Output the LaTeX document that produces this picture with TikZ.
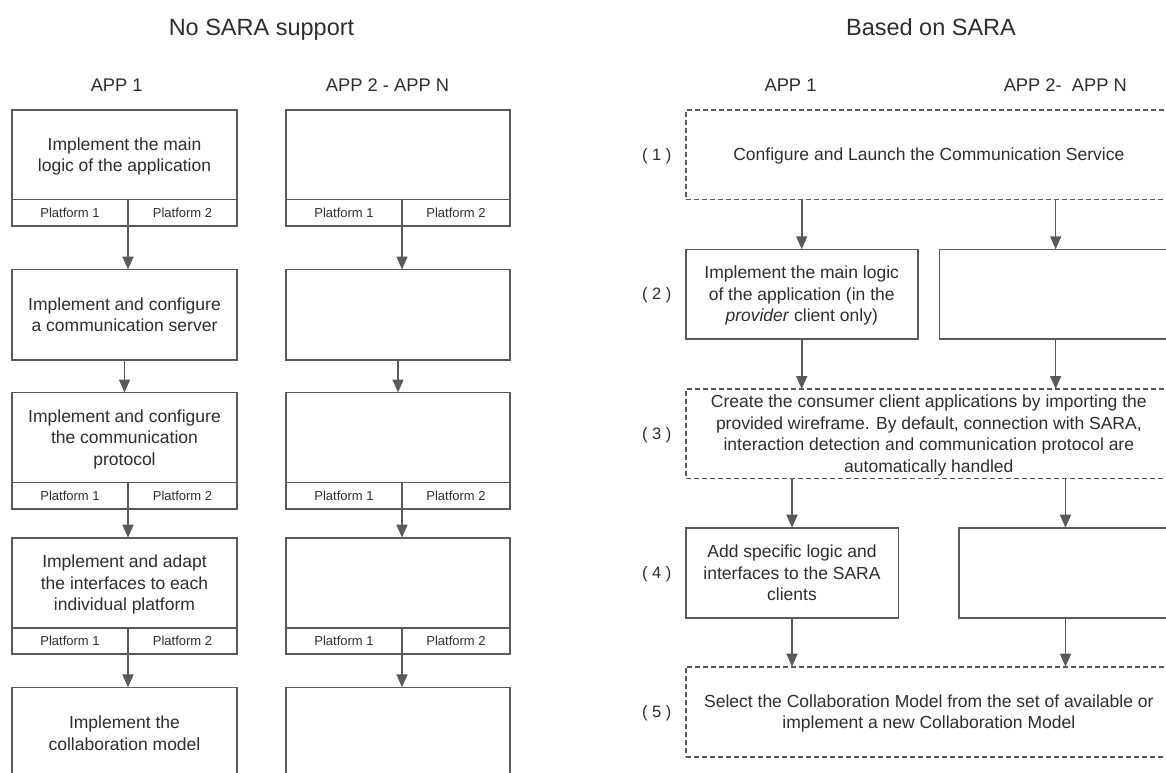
\documentclass[tikz,border=0pt]{standalone}
\usepackage{fontspec}
\setmainfont{Liberation Sans}
\usetikzlibrary{arrows.meta,calc}
\definecolor{txt}{HTML}{2E2E2E}
\definecolor{lgray}{HTML}{5A5A5A}
\newcommand\boxfnt{\fontsize{17.5}{21.5}\selectfont}
\newcommand\platfnt{\fontsize{13}{15}\selectfont}
\newcommand\headfnt{\fontsize{23.5}{27}\selectfont}
\newcommand\appfnt{\fontsize{18.3}{22}\selectfont}
\newcommand\labfnt{\fontsize{16.5}{20}\selectfont}
\tikzset{
  ln/.style={draw=lgray, line width=1.6pt},
  stepbox/.style={ln, rectangle, anchor=north west, inner sep=0pt, outer sep=0pt, align=center, text depth=0pt, font=\boxfnt, text=txt},
  dashbox/.style={stepbox, dash pattern=on 5pt off 3pt},
  platbox/.style={ln, rectangle, anchor=north west, inner sep=0pt, outer sep=0pt, minimum height=26.5pt, font=\platfnt, text=txt},
  arr/.style={draw=lgray, line width=1.6pt, -{Triangle[width=11pt,length=13pt]}},
  headtxt/.style={anchor=base, font=\headfnt, text=txt, inner sep=0pt},
  apptxt/.style={anchor=base, font=\appfnt, text=txt, inner sep=0pt},
  labtxt/.style={font=\labfnt, text=txt, inner sep=0pt},
}
\begin{document}
\begin{tikzpicture}[x=1pt,y=-1pt]
\useasboundingbox (0,0) rectangle (1166,772);
\clip (0,0) rectangle (1166,772);
\fill[white] (0,0) rectangle (1166,772);

% headers
\node[headtxt] (hL) at (261.5,35) {No SARA support};
\node[headtxt] (hR) at (931,35) {Based on SARA};
\node[apptxt] (aL1) at (116.7,91.7) {APP 1};
\node[apptxt] (aL2) at (387.5,91.7) {APP 2 - APP N};
\node[apptxt] (aR1) at (790.5,91.7) {APP 1};
\node[apptxt] (aR2) at (1065.3,91.7) {APP 2-~~APP N};

% ---------- left: APP 1 ----------
\node[stepbox, minimum width=225pt, minimum height=89.5pt] (L1) at (12,110) {Implement the main\\logic of the application};
\node[platbox, minimum width=116pt] (L1a) at (L1.south west) {Platform 1};
\node[platbox, minimum width=109pt] (L1b) at (L1a.north east) {Platform 2};

\node[stepbox, minimum width=225pt, minimum height=90.5pt] (L2) at (12,269.5) {Implement and configure\\a communication server};

\node[stepbox, minimum width=225pt, minimum height=90pt] (L3) at (12,392.5) {Implement and configure\\the communication\\protocol};
\node[platbox, minimum width=116pt] (L3a) at (L3.south west) {Platform 1};
\node[platbox, minimum width=109pt] (L3b) at (L3a.north east) {Platform 2};

\node[stepbox, minimum width=225pt, minimum height=90pt] (L4) at (12,537.7) {Implement and adapt\\the interfaces to each\\individual platform};
\node[platbox, minimum width=116pt] (L4a) at (L4.south west) {Platform 1};
\node[platbox, minimum width=109pt] (L4b) at (L4a.north east) {Platform 2};

\node[stepbox, minimum width=225pt, minimum height=92pt] (L5) at (12,687.3) {Implement the\\collaboration model};

\draw[arr] (L1a.south east) -- (L2.north -| L1a.south east);
\draw[arr] (L2.south) -- (L2.south |- L3.north);
\draw[arr] (L3a.south east) -- (L4.north -| L3a.south east);
\draw[arr] (L4a.south east) -- (L5.north -| L4a.south east);

% ---------- left: APP 2 - APP N ----------
\node[stepbox, minimum width=224pt, minimum height=89.5pt] (M1) at (286,110) {};
\node[platbox, minimum width=116pt] (M1a) at (M1.south west) {Platform 1};
\node[platbox, minimum width=108pt] (M1b) at (M1a.north east) {Platform 2};

\node[stepbox, minimum width=224pt, minimum height=90.5pt] (M2) at (286,269.5) {};

\node[stepbox, minimum width=224pt, minimum height=90pt] (M3) at (286,392.5) {};
\node[platbox, minimum width=116pt] (M3a) at (M3.south west) {Platform 1};
\node[platbox, minimum width=108pt] (M3b) at (M3a.north east) {Platform 2};

\node[stepbox, minimum width=224pt, minimum height=90pt] (M4) at (286,537.7) {};
\node[platbox, minimum width=116pt] (M4a) at (M4.south west) {Platform 1};
\node[platbox, minimum width=108pt] (M4b) at (M4a.north east) {Platform 2};

\node[stepbox, minimum width=224pt, minimum height=92pt] (M5) at (286,687.3) {};

\draw[arr] (M1a.south east) -- (M2.north -| M1a.south east);
\draw[arr] (M2.south) -- (M2.south |- M3.north);
\draw[arr] (M3a.south east) -- (M4.north -| M3a.south east);
\draw[arr] (M4a.south east) -- (M5.north -| M4a.south east);

% ---------- right: based on SARA ----------
\node[dashbox, minimum width=486.3pt, minimum height=89.3pt] (R1) at (685.7,110) {Configure and Launch the Communication Service};
\node[stepbox, minimum width=232pt, minimum height=89.4pt] (R2a) at (685.7,249.3) {Implement the main logic\\of the application (in the\\\textit{provider} client only)};
\node[stepbox, minimum width=232.7pt, minimum height=89.4pt] (R2b) at (939.3,249.3) {};
\node[dashbox, minimum width=486.3pt, minimum height=89.3pt] (R3) at (685.7,389) {Create the consumer client applications by importing the\\provided wireframe. By default, connection with SARA,\\interaction detection and communication protocol are\\automatically handled};
\node[stepbox, minimum width=212.6pt, minimum height=90.3pt] (R4a) at (685.7,527.7) {Add specific logic and\\interfaces to the SARA\\clients};
\node[stepbox, minimum width=213pt, minimum height=90.3pt] (R4b) at (959,527.7) {};
\node[dashbox, minimum width=486.3pt, minimum height=90pt] (R5) at (685.7,666.7) {Select the Collaboration Model from the set of available or\\implement a new Collaboration Model};

\draw[arr] (R2a.north |- R1.south) -- (R2a.north);
\draw[arr] (R2b.north |- R1.south) -- (R2b.north);
\draw[arr] (R2a.south) -- (R2a.south |- R3.north);
\draw[arr] (R2b.south) -- (R2b.south |- R3.north);
\draw[arr] (R4a.north |- R3.south) -- (R4a.north);
\draw[arr] (R4b.north |- R3.south) -- (R4b.north);
\draw[arr] (R4a.south) -- (R4a.south |- R5.north);
\draw[arr] (R4b.south) -- (R4b.south |- R5.north);

% step labels
\node[labtxt] (n1) at (656.7,156.7) {( 1 )};
\node[labtxt] (n2) at (656.7,295) {( 2 )};
\node[labtxt] (n3) at (656.7,435) {( 3 )};
\node[labtxt] (n4) at (656.7,574.3) {( 4 )};
\node[labtxt] (n5) at (656.7,713.3) {( 5 )};
\end{tikzpicture}
\end{document}
